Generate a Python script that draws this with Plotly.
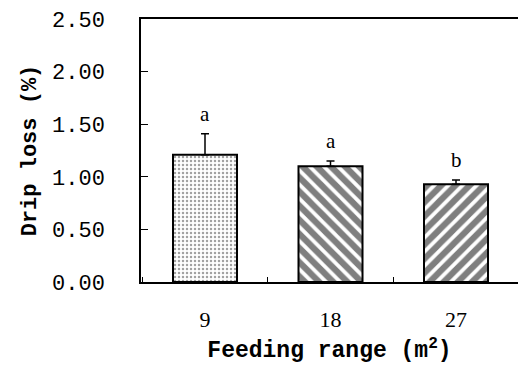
import plotly.graph_objects as go

categories = ["9", "18", "27"]
drip_loss = [1.21, 1.10, 0.93]
err_up = [0.20, 0.05, 0.04]
letters = ["a", "a", "b"]
patterns = [".", "\\", "/"]
y_ticks = [0.0, 0.5, 1.0, 1.5, 2.0, 2.5]

fig = go.Figure()
for i, c in enumerate(categories):
    dotted = patterns[i] == "."
    fig.add_trace(go.Bar(
        x=[c], y=[drip_loss[i]],
        width=0.51,
        marker=dict(
            color="white",
            line=dict(color="black", width=2),
            pattern=dict(
                shape=patterns[i],
                fgcolor="#444444" if dotted else "black",
                bgcolor="white",
                size=4 if dotted else 10,
                solidity=0.3 if dotted else 0.62,
            ),
        ),
        error_y=dict(type="data", array=[err_up[i]], arrayminus=[0],
                     symmetric=False, color="black", thickness=1.5, width=4),
        showlegend=False,
    ))

for i, c in enumerate(categories):
    fig.add_annotation(x=i, y=drip_loss[i] + err_up[i], text=letters[i],
                       xref="x", yref="y",
                       showarrow=False, yanchor="bottom", yshift=6,
                       font=dict(family="Liberation Serif", size=21, color="black"))

fig.update_layout(
    width=518, height=367,
    margin=dict(l=141, r=0, t=19, b=85),
    paper_bgcolor="white", plot_bgcolor="white",
    bargap=0.49,
    font=dict(family="Liberation Mono", color="black"),
)
fig.update_xaxes(
    type="category",
    range=[-0.51, 2.494],
    showline=True, linecolor="black", linewidth=1.5, mirror=True,
    ticks="inside", tickson="boundaries", ticklen=5, tickcolor="black",
    tickfont=dict(family="Liberation Serif", size=22),
    ticklabelstandoff=17,
    showgrid=False,
    title=dict(text="<b>Feeding range (m<sup>2</sup>)</b>",
               font=dict(family="Liberation Mono", size=23), standoff=10),
)
fig.update_yaxes(
    range=[0, 2.5],
    tickvals=y_ticks,
    tickformat=".2f",
    showline=True, linecolor="black", linewidth=1.5,
    ticks="inside", ticklen=7, tickcolor="black",
    tickfont=dict(family="Liberation Mono", size=22),
    ticklabelstandoff=30,
    showgrid=False, zeroline=False,
    title=dict(text="<b>Drip loss (%)</b>",
               font=dict(family="Liberation Mono", size=22), standoff=9),
)

fig.write_html("out.html")
